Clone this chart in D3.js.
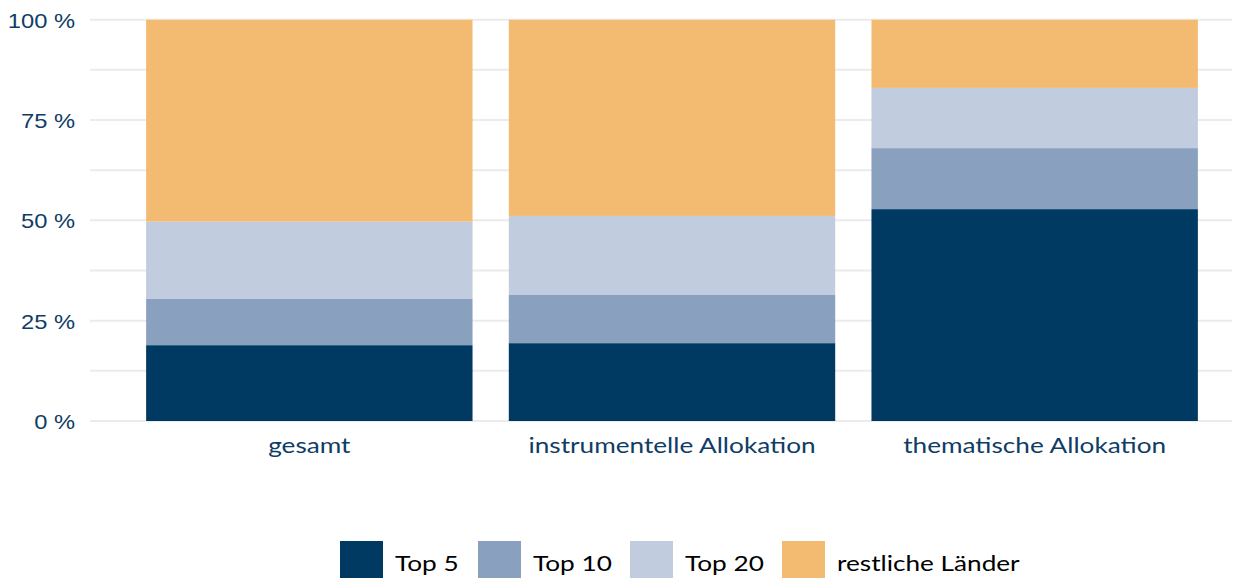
<!DOCTYPE html>
<html><head><meta charset="utf-8">
<script src="https://cdn.jsdelivr.net/npm/d3@7"></script>
<style>body{margin:0;background:#fff}svg{display:block}</style>
</head><body>
<svg id="c" width="1241" height="578"></svg>
<script>
const categories = ["gesamt", "instrumentelle Allokation", "thematische Allokation"];
const seriesNames = ["Top 5", "Top 10", "Top 20", "restliche Länder"];
const top5 = [18.9, 19.4, 52.8];
const top10 = [11.5, 12.0, 15.2];
const top20 = [19.3, 19.7, 15.0];
const rest = [50.3, 48.9, 17.0];
const yTicks = [0, 25, 50, 75, 100];
const yMinor = [12.5, 37.5, 62.5, 87.5];
const colors = ["#003a63", "#89a1be", "#c1ccde", "#f3ba72"];

const svg = d3.select("#c");
const x = d3.scaleBand().domain(categories).range([128, 1216]).paddingInner(0.1).paddingOuter(0.05);
const y = d3.scaleLinear().domain([0, 100]).range([421, 19.7]);

// gridlines
svg.append("g").selectAll("line").data(yTicks.concat(yMinor)).join("line")
  .attr("x1", 90).attr("x2", 1232)
  .attr("y1", d => y(d)).attr("y2", d => y(d))
  .attr("stroke", "#ebebeb").attr("stroke-width", 2);

// stacked data
const rows = categories.map((c, i) => ({cat: c, "Top 5": top5[i], "Top 10": top10[i], "Top 20": top20[i], "restliche Länder": rest[i]}));
const stack = d3.stack().keys(seriesNames)(rows);
const color = d3.scaleOrdinal().domain(seriesNames).range(colors);

svg.append("g").selectAll("g").data(stack).join("g")
  .attr("fill", d => color(d.key))
  .selectAll("rect").data(d => d).join("rect")
  .attr("x", d => x(d.data.cat)).attr("width", x.bandwidth())
  .attr("y", d => y(Math.min(d[1], 100))).attr("height", d => y(d[0]) - y(Math.min(d[1], 100)));

// y axis
const yAxis = d3.axisLeft(y).tickValues(yTicks).tickFormat(d => d + " %").tickSize(0).tickPadding(0);
const ya = svg.append("g").attr("transform", "translate(75,0)").call(yAxis);
ya.select(".domain").remove();
ya.selectAll("text").attr("font-family", "Liberation Sans, Arial, sans-serif").attr("font-size", 21)
  .attr("fill", "#0f3d66").attr("dy", "0.36em").attr("x", 0).attr("transform", "scale(1.13,1)");

// x axis
const xAxis = d3.axisBottom(x).tickSize(0).tickPadding(0);
const xa = svg.append("g").attr("transform", "translate(0,437)").call(xAxis);
xa.select(".domain").remove();
xa.selectAll("text").attr("font-family", "Lato, sans-serif").attr("font-size", 22)
  .attr("fill", "#0f3d66").attr("dy", "0.71em").attr("transform", "scale(1.19,1)");

// legend
const legX = [340, 478, 630, 782];
const leg = svg.append("g").selectAll("g").data(seriesNames).join("g")
  .attr("transform", (d, i) => `translate(${legX[i]},541)`);
leg.append("rect").attr("width", 43).attr("height", 40).attr("fill", d => color(d));
leg.append("text").attr("transform", "translate(55,30) scale(1.19,1)").text(d => d)
  .attr("font-family", "Lato, sans-serif").attr("font-size", 22).attr("fill", "#000");
</script>
</body></html>
